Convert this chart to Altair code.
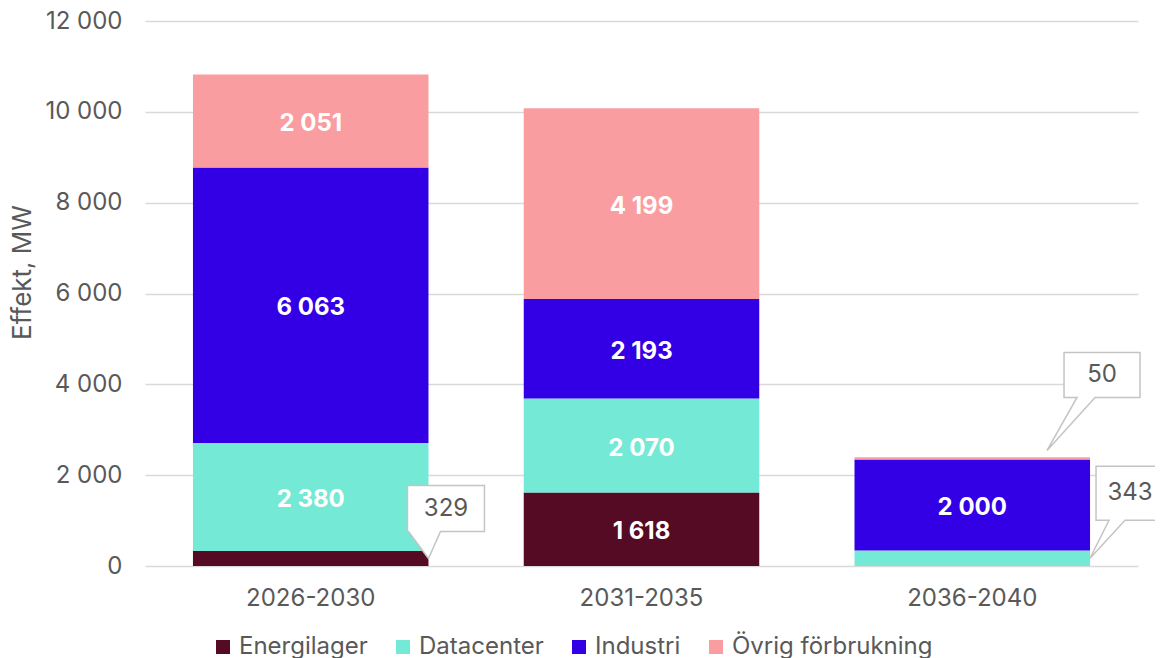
import altair as alt
import pandas as pd

categories = ["2026-2030", "2031-2035", "2036-2040"]
series = ["Energilager", "Datacenter", "Industri", "Övrig förbrukning"]
energilager = [329, 1618, 0]
datacenter = [2380, 2070, 343]
industri = [6063, 2193, 2000]
ovrig = [2051, 4199, 50]
colors = ["#560b24", "#74e9d5", "#3300e6", "#f99da0"]
y_ticks = [0, 2000, 4000, 6000, 8000, 10000, 12000]

FONT = "Inter"
GRAY = "#595959"
FS = 24

all_values = [energilager, datacenter, industri, ovrig]
rows = []
for si, (name, vals) in enumerate(zip(series, all_values)):
    for ci, cat in enumerate(categories):
        rows.append({"cat": cat, "series": name, "idx": si, "value": vals[ci]})
df = pd.DataFrame(rows)

# callouts: (category, series, shape path relative to tip, text dx, text dy)
callout_specs = [
    ("2026-2030", "Energilager",
     "M0,0 L-20,-27 L-21,-27 L-21,-73 L56,-73 L56,-27 L12,-27 Z", 17.5, -50),
    ("2036-2040", "Datacenter",
     "M0,0 L19,-38 L6,-38 L6,-92 L80,-92 L80,-38 L35,-38 Z", 40, -65),
    ("2036-2040", "Övrig förbrukning",
     "M-43,-8 L-13,-61 L-26,-61 L-26,-106 L50,-106 L50,-61 L5,-61 Z", 12, -83.5),
]

def seg_mid(cat, name):
    ci = categories.index(cat)
    si = series.index(name)
    bottom = sum(all_values[k][ci] for k in range(si))
    return bottom + all_values[si][ci] / 2.0, all_values[si][ci]

x_enc = alt.X("cat:N", sort=categories,
              scale=alt.Scale(paddingInner=0.288, paddingOuter=0.145),
              axis=alt.Axis(title=None, labelAngle=0, labelFontSize=FS,
                            labelColor=GRAY, labelFont=FONT, ticks=False,
                            domain=False, labelPadding=20))

base = alt.Chart(df).transform_stack(
    stack="value", groupby=["cat"], as_=["y0", "y1"],
    sort=[alt.SortField("idx", order="ascending")]
).transform_calculate(mid="(datum.y0 + datum.y1) / 2")

bars = base.mark_bar().encode(
    x=x_enc,
    y=alt.Y("y0:Q", scale=alt.Scale(domain=[0, 12000], nice=False),
            axis=alt.Axis(values=y_ticks, format=",.0f", title="Effekt, MW",
                          titleFontSize=26, titleFont=FONT, titleFontWeight="normal",
                          titleColor=GRAY, titlePadding=9, titleY=251,
                          labelFontSize=FS, labelFont=FONT, labelColor=GRAY,
                          labelPadding=23, ticks=False, domain=False,
                          grid=True, gridColor="#d9d9d9", gridWidth=1.5)),
    y2="y1:Q",
    color=alt.Color("series:N", sort=series,
                    scale=alt.Scale(domain=series, range=colors),
                    legend=alt.Legend(title=None, orient="none", direction="horizontal",
                                      legendX=66, legendY=614,
                                      symbolType="square", symbolSize=196,
                                      symbolStrokeWidth=0, labelLimit=0,
                                      labelFontSize=FS, labelFont=FONT, labelColor=GRAY,
                                      labelOffset=4, columnPadding=23, padding=0)),
)

labels = base.transform_filter("datum.value >= 1000").mark_text(
    color="white", fontSize=FS, font=FONT, fontWeight="bold", baseline="middle", dy=3
).encode(
    x=alt.X("cat:N", sort=categories),
    y=alt.Y("mid:Q"),
    text=alt.Text("value:Q", format=",.0f"),
)

layers = [bars, labels]
for cat, name, path, tdx, tdy in callout_specs:
    tip, val = seg_mid(cat, name)
    cdf = pd.DataFrame([{"cat": cat, "tip": tip, "value": val}])
    box = alt.Chart(cdf).mark_point(
        shape=path, size=4, filled=True, fill="white", stroke="#c4c4c4",
        strokeWidth=1.5, opacity=1
    ).encode(x=alt.X("cat:N", sort=categories, bandPosition=1), y="tip:Q")
    txt = alt.Chart(cdf).mark_text(
        fontSize=FS, font=FONT, color=GRAY, dx=tdx, dy=tdy, baseline="middle",
        align="center"
    ).encode(x=alt.X("cat:N", sort=categories, bandPosition=1), y="tip:Q",
             text=alt.Text("value:Q", format=",.0f"))
    layers += [box, txt]

chart = alt.layer(*layers).properties(
    width=993, height=545,
    padding={"left": 137, "top": 13, "right": 17, "bottom": 92},
    autosize=alt.AutoSizeParams(type="none"),
).configure(font=FONT).configure_view(strokeWidth=0, stroke="transparent")

chart.save("out.html", embed_options={
    "renderer": "svg", "actions": False,
    "formatLocale": {"decimal": ",", "thousands": "\u00a0", "grouping": [3],
                     "currency": ["", " kr"]},
})
